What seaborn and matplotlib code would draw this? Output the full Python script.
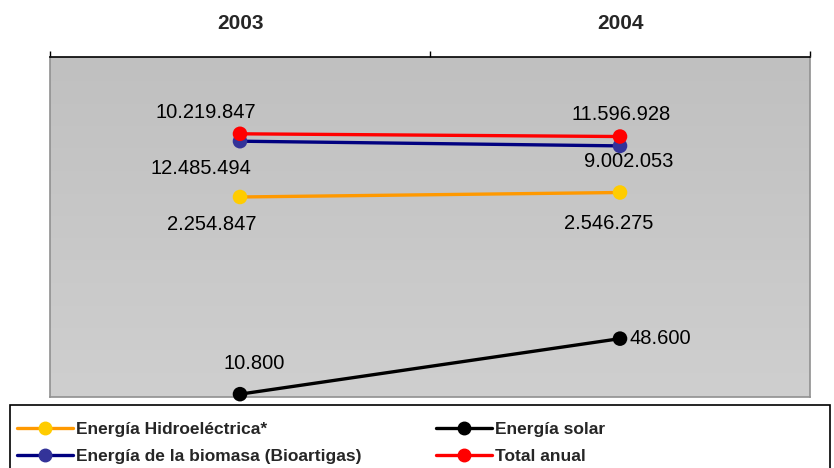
import matplotlib
matplotlib.use("Agg")
import numpy as np
import pandas as pd
import matplotlib.pyplot as plt
import seaborn as sns
from matplotlib.lines import Line2D
from matplotlib.patches import Rectangle
from matplotlib.colors import LinearSegmentedColormap

# ---------------------------------------------------------------
# data
# ---------------------------------------------------------------
years = ["2003", "2004"]
series = [
    "Energía Hidroeléctrica*",
    "Energía solar",
    "Energía de la biomasa (Bioartigas)",
    "Total anual",
]
hidro = [2254847, 2546275]
solar = [10800, 48600]
biomasa = [10219847, 9002053]
total = [12485494, 11596928]

# ---------------------------------------------------------------
# style
# ---------------------------------------------------------------
sns.set_style("white")
plt.rcParams["font.family"] = ["Liberation Sans", "DejaVu Sans"]

line_colors = ["#FF9900", "#000000", "#000080", "#FF0000"]
marker_colors = ["#FFCC00", "#000000", "#333399", "#FF0000"]

# label offsets (pixels) per series, per year
label_offsets = [
    [(-28, -28), (-11, -31)],
    [(14, 31), (40, 0)],
    [(-34, 29), (9, -16)],
    [(-39, -35), (1, 22)],
]

df = pd.DataFrame({
    "Año": years * 4,
    "Serie": np.repeat(series, len(years)),
    "Valor": hidro + solar + biomasa + total,
})

fig = plt.figure(figsize=(8.34, 4.68), dpi=100)
ax = fig.add_axes([50 / 834, 1 - 397 / 468, 760 / 834, 340 / 468])

# gray gradient background
cmap = LinearSegmentedColormap.from_list("bg", ["#C0C0C0", "#CFCFCF"])
ax.imshow(np.linspace(0, 1, 200).reshape(-1, 1), cmap=cmap, extent=[0, 1, 0, 1],
          transform=ax.transAxes, aspect="auto", zorder=0)

sns.lineplot(data=df, x="Año", y="Valor", hue="Serie", hue_order=series,
             palette=line_colors, linewidth=2.4, legend=False, ax=ax, zorder=2)
for ln in ax.lines:
    ln.set_clip_on(False)
sns.scatterplot(data=df, x="Año", y="Valor", hue="Serie", hue_order=series,
                palette=marker_colors, s=110, edgecolor="none", legend=False,
                ax=ax, zorder=3, clip_on=False)

ax.set_yscale("log")
ax.set_ylim(1e4, 1e8)
ax.set_xlim(-0.5, 1.5)
ax.set_yticks([])
ax.minorticks_off()
ax.set_xlabel("")
ax.set_ylabel("")

# data labels
vals = [hidro, solar, biomasa, total]
for s, v in enumerate(vals):
    for i, val in enumerate(v):
        dx, dy = label_offsets[s][i]
        ax.annotate(f"{val:,}".replace(",", "."), (i, val), xytext=(dx, dy),
                    textcoords="offset pixels", ha="center", va="center",
                    fontsize=14.5, color="#000000", zorder=4)

# top category axis
ax.xaxis.tick_top()
ax.set_xticks([0, 1])
ax.set_xticklabels(years, fontsize=15, fontweight="bold")
ax.tick_params(axis="x", which="major", length=0, pad=17)
ax.set_xticks([-0.5, 0.5, 1.5], minor=True)
ax.tick_params(axis="x", which="minor", length=4, width=1, direction="out",
               top=True, bottom=False, color="#000000")

for side in ["left", "right", "bottom"]:
    ax.spines[side].set_color("#909090")
    ax.spines[side].set_linewidth(1.2)
ax.spines["top"].set_color("#000000")
ax.spines["top"].set_linewidth(1.2)

# legend box
fig.patches.append(Rectangle((10 / 834, -0.02), 820 / 834, (468 - 405) / 468 + 0.02,
                             transform=fig.transFigure, facecolor="white",
                             edgecolor="black", linewidth=1.2, zorder=1))
handles = [Line2D([0], [0], color=lc, lw=2.4, marker="o", markersize=9,
                  markerfacecolor=mc, markeredgecolor=mc)
           for lc, mc in zip(line_colors, marker_colors)]
order = [0, 2, 1, 3]
leg = fig.legend([handles[k] for k in order], [series[k] for k in order],
                 loc="upper left", bbox_to_anchor=(10 / 834, 1 - 415 / 468), ncol=2,
                 frameon=False, handlelength=3.2, handletextpad=0.2,
                 columnspacing=4.3, labelspacing=0.68, borderaxespad=0,
                 prop={"size": 12.5, "weight": "bold"})

fig.savefig("out.png", dpi=100)
